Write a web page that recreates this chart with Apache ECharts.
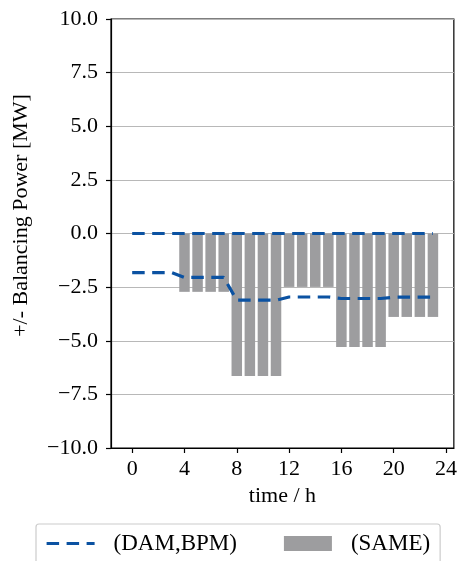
<!DOCTYPE html>
<html>
<head>
<meta charset="utf-8">
<script src="https://cdn.jsdelivr.net/npm/echarts@6/dist/echarts.min.js"></script>
<style>html,body{margin:0;padding:0;background:#fff}#c{width:460px;height:561px}</style>
</head>
<body>
<div id="c"></div>
<script>
// Data
const hours = [0,1,2,3,4,5,6,7,8,9,10,11,12,13,14,15,16,17,18,19,20,21,22,23];
const damBpmZero = [0,0,0,0,0,0,0,0,0,0,0,0,0,0,0,0,0,0,0,0,0,0,0,0];
const damBpmLower = [-1.82,-1.82,-1.82,-1.82,-2.05,-2.05,-2.05,-2.05,-3.11,-3.11,-3.11,-3.11,-2.96,-2.96,-2.96,-2.96,-3.03,-3.03,-3.03,-3.03,-2.97,-2.97,-2.97,-2.97];
const barHours = [4,5,6,7,8,9,10,11,12,13,14,15,16,17,18,19,20,21,22,23];
const sameValues = [-2.72,-2.72,-2.72,-2.72,-6.64,-6.64,-6.64,-6.64,-2.49,-2.49,-2.49,-2.49,-5.29,-5.29,-5.29,-5.29,-3.89,-3.89,-3.89,-3.89];
const xTicks = [0,4,8,12,16,20,24];
const yTicks = [-10,-7.5,-5,-2.5,0,2.5,5,7.5,10];

const FONT = 'Liberation Serif, Times New Roman, serif';
const BLUE = '#0b52a2';
const GRAY = '#9d9d9f';

const chart = echarts.init(document.getElementById('c'), null, {renderer:'canvas'});
const pair = (xs, ys) => xs.map((x,i)=>[x, ys[i]]);
const dash = {color: BLUE, width: 3.2, type: [12.5, 7.5], cap: 'butt'};

chart.setOption({
  animation: false,
  grid: {left: 111, right: 4.5, top: 19, bottom: 113, show: true, borderColor: '#000', borderWidth: 1.2, backgroundColor: 'transparent'},
  xAxis: {
    type: 'value', min: -1.62, max: 24.6,
    name: 'time / h', nameLocation: 'middle', nameGap: 36,
    nameTextStyle: {fontFamily: FONT, fontSize: 22, color: '#000'},
    axisLine: {show: true, onZero: false, lineStyle: {color: '#000', width: 1.2}},
    axisTick: {show: true, length: 5, inside: false, customValues: xTicks, lineStyle: {color: '#000', width: 1.2}},
    axisLabel: {customValues: xTicks, margin: 10, fontFamily: FONT, fontSize: 22, color: '#000'},
    splitLine: {show: false}
  },
  yAxis: {
    type: 'value', min: -10, max: 10, interval: 2.5,
    name: '+/- Balancing Power [MW]', nameLocation: 'middle', nameGap: 79,
    nameTextStyle: {fontFamily: FONT, fontSize: 22, color: '#000', padding: [0,0,0,36]},
    axisLine: {show: true, onZero: false, lineStyle: {color: '#000', width: 1.2}},
    axisTick: {show: true, length: 5, inside: false, lineStyle: {color: '#000', width: 1.2}},
    axisLabel: {margin: 13, fontFamily: FONT, fontSize: 22, color: '#000',
      formatter: v => v.toFixed(1).replace('-', '\u2212')},
    splitLine: {show: true, lineStyle: {color: '#b8b8b8', width: 1.2}}
  },
  legend: {
    data: [
      {name: '(DAM,BPM)', itemStyle: {opacity: 0}, lineStyle: {width: 3.2, type: [12.5, 7.5], color: BLUE}},
      {name: '(SAME)', icon: 'rect'}
    ],
    left: 36, top: 524,
    orient: 'horizontal',
    padding: [8, 10, 30, 9],
    itemWidth: 48, itemHeight: 15, itemGap: 47,
    borderColor: '#cccccc', borderWidth: 1.2, borderRadius: 3,
    textStyle: {fontFamily: FONT, fontSize: 23, color: '#000', padding: [0,0,0,14]}
  },
  series: [
    {name: '(SAME)', type: 'bar', data: pair(barHours, sameValues), barWidth: 10.5,
     itemStyle: {color: GRAY}, z: 2},
    {name: '(DAM,BPM)', type: 'line', data: pair(hours, damBpmZero), symbol: 'none', showSymbol: false,
     lineStyle: dash, itemStyle: {color: BLUE}, z: 3},
    {name: '(DAM,BPM)', type: 'line', data: pair(hours, damBpmLower), symbol: 'none', showSymbol: false,
     lineStyle: dash, itemStyle: {color: BLUE}, z: 3}
  ]
});
</script>
</body>
</html>
